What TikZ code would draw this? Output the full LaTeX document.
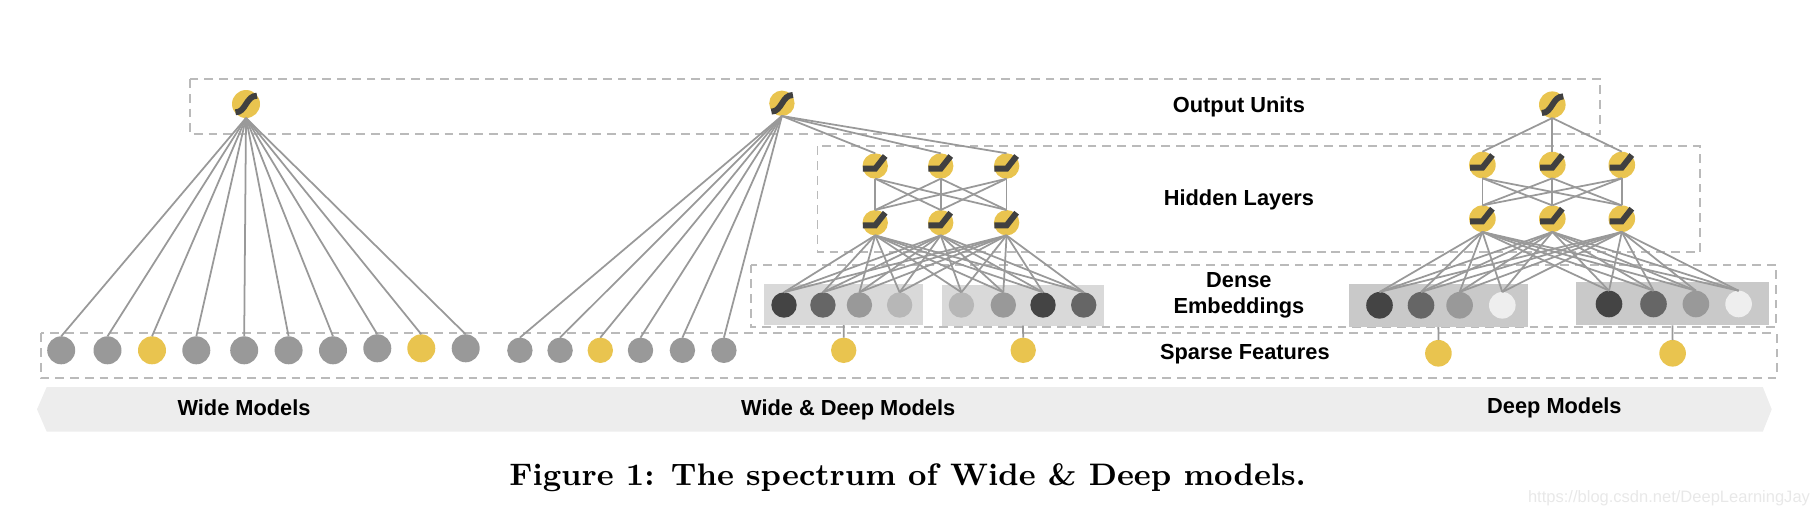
\documentclass[tikz,border=0pt]{standalone}
\usepackage{fontspec}
\newfontfamily\labelfont{Liberation Sans}
\usetikzlibrary{positioning,calc}
\definecolor{unityellow}{HTML}{E9C44F}
\definecolor{unitgray}{HTML}{999999}
\definecolor{emba}{HTML}{444444}
\definecolor{embb}{HTML}{666666}
\definecolor{embc}{HTML}{999999}
\definecolor{embd}{HTML}{B7B7B7}
\definecolor{embe}{HTML}{EEEEEE}
\tikzset{
    unit/.style={circle,inner sep=0pt,outer sep=0pt,minimum size=2.54mm},
    bigunit/.style={unit,minimum size=2.8mm},
    midunit/.style={unit,minimum size=2.66mm},
    edge/.style={draw=unitgray,line width=0.5pt},
    layerbox/.style={draw=black!27,line width=0.55pt,dash pattern=on 2.5pt off 1.7pt},
    embbox/.style={inner sep=0pt,outer sep=0pt},
    glyph/.style={draw=black!75,line width=1.7pt},
    lbl/.style={font=\labelfont\bfseries\fontsize{6.2}{7.5}\selectfont,align=center,inner sep=0pt}
}
%Activation marks, drawn over a unit%
\newcommand\sigmoidmark[1]{\draw[glyph,shift={(#1)}] (-10.5,8.3) .. controls (0,8.5) and (0,-8.5) .. (11,-8.3);}
\newcommand\relumark[1]{\draw[glyph,shift={(#1)}] (-12.3,2.7) -- (0,2.7) -- (10,-10);}
\begin{document}
\begin{tikzpicture}[x=0.1mm,y=-0.1mm]
    \useasboundingbox (0,0) rectangle (1814,516);
    %Banner and layer boxes%
    %===========================================================
    \fill[black!7] (37,409.3) -- (46.7,387) -- (1762.8,387) -- (1771.7,409.3) -- (1762.8,431.7) -- (46.7,431.7) -- cycle;
    \draw[layerbox] (190,79) rectangle (1600.2,134.3);
    \draw[layerbox] (817.5,146.3) rectangle (1699.7,252.3);
    \draw[layerbox] (750.8,264.7) rectangle (1776.3,327.3);
    \draw[layerbox] (41,333.3) rectangle (1776.6,378);
    %Embedding rectangles%
    \node[embbox,fill=black!15,minimum width=15.91mm,minimum height=4.07mm] (bandA) at (843.65,304.65) {};
    \node[embbox,fill=black!15,minimum width=16.29mm,minimum height=4.07mm] (bandB) at (1022.95,305.35) {};
    \node[embbox,fill=black!21,minimum width=17.87mm,minimum height=4.33mm] (bandC) at (1438.35,305.35) {};
    \node[embbox,fill=black!21,minimum width=19.31mm,minimum height=4.30mm] (bandD) at (1672.55,303.8) {};
    %Wide model%
    %===========================================================
    \node[bigunit,fill=unityellow] (wideout) at (246,104) {};
    \foreach \i/\x/\y/\c in {1/61.2/350.3/unitgray,2/107.5/350.3/unitgray,3/152/350.3/unityellow,4/196.3/350.3/unitgray,5/244.2/350.3/unitgray,6/288.6/350.3/unitgray,7/333/350.3/unitgray,8/377.3/348.3/unitgray,9/421.3/348.3/unityellow,10/465.7/348.3/unitgray}{
        \node[bigunit,fill=\c] (wide\i) at (\x,\y) {};
        \draw[edge] (wideout.south) -- (wide\i.north);
    }
    \sigmoidmark{wideout}
    %Wide and deep model%
    %===========================================================
    \node[unit,fill=unityellow] (mixout) at (781.9,103.3) {};
    \foreach \i/\x/\c in {1/519.9/unitgray,2/560.1/unitgray,3/600.3/unityellow,4/640.5/unitgray,5/682.4/unitgray,6/723.9/unitgray}{
        \node[unit,fill=\c] (mixs\i) at (\x,350.3) {};
        \draw[edge] (mixout.south) -- (mixs\i.north);
    }
    \foreach \i/\x in {1/875.2,2/940.7,3/1006.6}{
        \node[unit,fill=unityellow] (mixh\i) at (\x,166) {};
        \node[unit,fill=unityellow] (mixl\i) at (\x,222.7) {};
    }
    \foreach \i/\x/\c in {1/784/emba,2/822.9/embb,3/859.4/embc,4/899.6/embd,5/961.4/embd,6/1003.3/embc,7/1043/emba,8/1083.7/embb}{
        \node[unit,fill=\c] (mixe\i) at (\x,305) {};
    }
    \foreach \i in {1,2,3}{
        \draw[edge] (mixout.south) -- (mixh\i.north);
        \foreach \j in {1,2,3}{
            \draw[edge] (mixh\i.south) -- (mixl\j.north);
        }
        \foreach \j in {1,...,8}{
            \draw[edge] (mixl\i.south) -- (mixe\j.north);
        }
        \relumark{mixh\i}
        \relumark{mixl\i}
    }
    \sigmoidmark{mixout}
    \node[unit,fill=unityellow] (mixa) at (843.7,350.3) {};
    \node[unit,fill=unityellow] (mixb) at (1023.2,350.3) {};
    \draw[edge] (bandA.south) -- (mixa.north);
    \draw[edge] (bandB.south) -- (mixb.north);
    %Deep model%
    %===========================================================
    \node[midunit,fill=unityellow] (deepout) at (1552.3,104.7) {};
    \foreach \i/\x in {1/1482.4,2/1552.3,3/1621.8}{
        \node[midunit,fill=unityellow] (deeph\i) at (\x,165) {};
        \node[midunit,fill=unityellow] (deepl\i) at (\x,218.7) {};
    }
    \foreach \i/\x/\y/\c in {1/1379.5/305.3/emba,2/1421/305.3/embb,3/1459.6/305.3/embc,4/1502.3/305.3/embe,5/1609/304/emba,6/1653.5/304/embb,7/1695.9/304/embc,8/1738.6/304/embe}{
        \node[midunit,fill=\c] (deepe\i) at (\x,\y) {};
    }
    \foreach \i in {1,2,3}{
        \draw[edge] (deepout.south) -- (deeph\i.north);
        \foreach \j in {1,2,3}{
            \draw[edge] (deeph\i.south) -- (deepl\j.north);
        }
        \foreach \j in {1,...,8}{
            \draw[edge] (deepl\i.south) -- (deepe\j.north);
        }
        \relumark{deeph\i}
        \relumark{deepl\i}
    }
    \sigmoidmark{deepout}
    \node[midunit,fill=unityellow] (deepa) at (1438.4,353.3) {};
    \node[midunit,fill=unityellow] (deepb) at (1672.6,353.3) {};
    \draw[edge] (bandC.south) -- (deepa.north);
    \draw[edge] (bandD.south) -- (deepb.north);
    %Labels%
    %===========================================================
    \node[lbl] (outputlabel) at (1238.9,106.7) {Output Units};
    \node[lbl] (hiddenlabel) at (1238.9,199.6) {Hidden Layers};
    \node[lbl] (denselabel) at (1238.9,295) {Dense\\Embeddings};
    \node[lbl] (sparselabel) at (1244.9,353.9) {Sparse Features};
    \node[lbl] (widelabel) at (244,407.3) {Wide Models};
    \node[lbl] (mixlabel) at (848.2,410) {Wide \& Deep Models};
    \node[lbl] (deeplabel) at (1554.4,408) {Deep Models};
    \node[inner sep=0pt,font=\bfseries\fontsize{8.85}{10}\selectfont] (caption) at (907.7,478) {Figure 1: The spectrum of Wide \& Deep models.};
    \node[inner sep=0pt,text=black!9,font=\labelfont\fontsize{4.7}{5}\selectfont] (watermark) at (1669,498.5) {https://blog.csdn.net/DeepLearningJay};
\end{tikzpicture}
\end{document}
